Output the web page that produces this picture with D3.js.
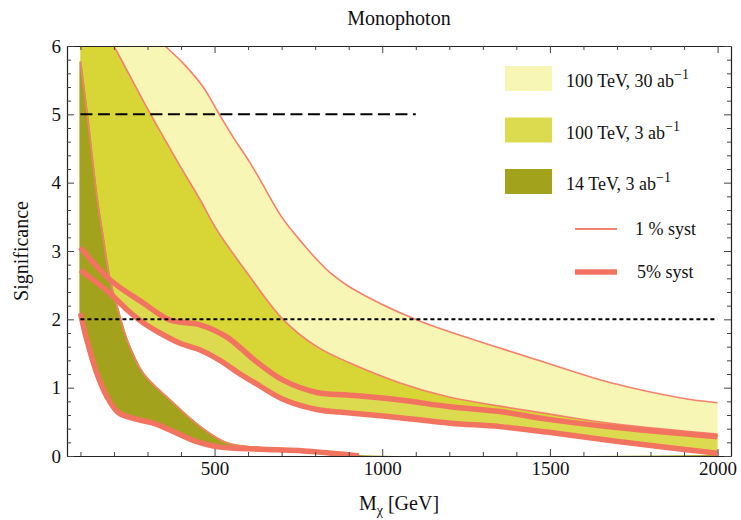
<!DOCTYPE html>
<html>
<head>
<meta charset="utf-8">
<script src="https://cdn.jsdelivr.net/npm/d3@7"></script>
<style>
  body { margin: 0; background: #fff; }
  text { font-family: "Liberation Serif", "DejaVu Serif", serif; fill: #111; }
</style>
</head>
<body>
<div id="chart"></div>
<script>
// values
// 100 TeV, 30 ab^-1 : 1% syst (upper) and 5% syst (lower)
var hi30X = [100, 250, 352, 406, 466, 507, 555, 606, 636, 700, 761, 806, 850, 904, 1104, 1351, 1491, 1691, 1891, 2000];
var hi30Y = [7.0, 6.45, 6.0, 5.75, 5.40, 5.06, 4.67, 4.29, 4.04, 3.50, 3.12, 2.87, 2.66, 2.47, 1.99, 1.58, 1.36, 1.06, 0.85, 0.78];
var lo30X = [100, 188, 287, 367, 457, 537, 580, 620, 704, 805, 904, 1053, 1202, 1351, 1491, 1691, 2000];
var lo30Y = [3.05, 2.58, 2.24, 1.99, 1.92, 1.74, 1.57, 1.40, 1.11, 0.93, 0.89, 0.82, 0.72, 0.65, 0.54, 0.42, 0.28];

// 100 TeV, 3 ab^-1
var hi3X = [100, 200, 307, 400, 457, 507, 606, 704, 805, 904, 1053, 1202, 1351, 1491, 1691, 2000];
var hi3Y = [6.9, 6.0, 5.02, 4.22, 3.75, 3.31, 2.62, 2.0, 1.60, 1.36, 1.07, 0.86, 0.73, 0.62, 0.47, 0.32];
var lo3X = [100, 188, 239, 287, 337, 397, 457, 516, 576, 620, 704, 805, 904, 1053, 1202, 1351, 1491, 1691, 2000];
var lo3Y = [2.72, 2.38, 2.14, 1.95, 1.80, 1.65, 1.55, 1.40, 1.20, 1.07, 0.83, 0.68, 0.63, 0.56, 0.48, 0.43, 0.35, 0.22, 0.04];

// 14 TeV, 3 ab^-1
var hi14X = [100, 120, 150, 164, 188, 212, 239, 287, 367, 457, 537, 636, 750, 850, 930, 2000];
var hi14Y = [5.77, 5.0, 3.75, 3.31, 2.58, 2.14, 1.70, 1.21, 0.82, 0.43, 0.19, 0.12, 0.09, 0.05, 0, 0];
var lo14X = [100, 119, 149, 179, 212, 257, 317, 367, 436, 516, 636, 750, 850, 930, 2000];
var lo14Y = [2.09, 1.70, 1.21, 0.87, 0.64, 0.55, 0.48, 0.38, 0.23, 0.13, 0.10, 0.08, 0.04, 0, 0];

// reference significance lines
var refY = [5, 2];
var refXStart = [100, 100];
var refXEnd = [1100, 2000];

var xMajorTicks = [500, 1000, 1500, 2000];
var yMajorTicks = [0, 1, 2, 3, 4, 5, 6];

var bandNames = ["100 TeV, 30 ab", "100 TeV, 3 ab", "14 TeV, 3 ab"];
var systNames = ["1 % syst", "5% syst"];

var svgWidth = 741;
var svgHeight = 520;
var margin = { top: 46, right: 10, bottom: 64, left: 67 };
var width = svgWidth - margin.left - margin.right;
var height = svgHeight - margin.top - margin.bottom;

var colLight = "#f7f6b5";
var colMed = "#dcdb4f";
var colOver = "#d8d536";
var colDark = "#a3a21c";
var colLine = "#f4806e";
var colThick = "#f2735f";

var svg = d3.select("#chart").append("svg")
  .attr("width", svgWidth)
  .attr("height", svgHeight);

var chartGroup = svg.append("g")
  .attr("transform", `translate(${margin.left}, ${margin.top})`);

var x = d3.scaleLinear().domain([60, 2040]).range([0, width]);
var y = d3.scaleLinear().domain([0, 6]).range([height, 0]);

var line = d3.line()
  .x(d => x(d[0]))
  .y(d => y(d[1]))
  .curve(d3.curveCatmullRom.alpha(0.5));

function pts(xs, ys) {
  return xs.map((v, i) => [v, ys[i]]);
}

// line up to (and including) the first zero
function untilZero(p) {
  var k = p.findIndex(d => d[1] <= 0);
  return k < 0 ? p : p.slice(0, k + 1);
}

function bandPath(xHi, yHi, xLo, yLo) {
  var a = line(pts(xHi, yHi));
  var b = line(pts(xLo, yLo).reverse());
  return a + "L" + b.slice(1) + "Z";
}

var defs = svg.append("defs");
defs.append("clipPath").attr("id", "plotClip")
  .append("rect").attr("width", width).attr("height", height);
defs.append("clipPath").attr("id", "lightClip")
  .append("path").attr("d", bandPath(hi30X, hi30Y, lo30X, lo30Y));

var plot = chartGroup.append("g").attr("clip-path", "url(#plotClip)");

// bands
plot.append("path")
  .attr("d", bandPath(hi30X, hi30Y, lo30X, lo30Y))
  .attr("fill", colLight);
plot.append("path")
  .attr("d", bandPath(hi3X, hi3Y, lo3X, lo3Y))
  .attr("fill", colMed);
plot.append("path")
  .attr("d", bandPath(hi3X, hi3Y, lo3X, lo3Y))
  .attr("fill", colOver)
  .attr("clip-path", "url(#lightClip)");
plot.append("path")
  .attr("d", bandPath(hi14X, hi14Y, lo14X, lo14Y))
  .attr("fill", colDark)
  .attr("stroke", colDark)
  .attr("stroke-width", 2);

// 1% syst (thin)
[pts(hi30X, hi30Y), pts(hi3X, hi3Y), untilZero(pts(hi14X, hi14Y))].forEach(function(p) {
  plot.append("path")
    .attr("d", line(p))
    .attr("fill", "none")
    .attr("stroke", colLine)
    .attr("stroke-width", 1.6);
});

// 5% syst (thick)
[pts(lo30X, lo30Y), pts(lo3X, lo3Y), untilZero(pts(lo14X, lo14Y))].forEach(function(p) {
  plot.append("path")
    .attr("d", line(p))
    .attr("fill", "none")
    .attr("stroke", colThick)
    .attr("stroke-width", 5.5)
    .attr("stroke-linecap", "butt")
    .attr("stroke-linejoin", "round");
});

// reference lines
refY.forEach(function(v, i) {
  plot.append("line")
    .attr("x1", x(refXStart[i]))
    .attr("x2", x(refXEnd[i]))
    .attr("y1", y(v))
    .attr("y2", y(v))
    .attr("stroke", "#000")
    .attr("stroke-width", 2)
    .attr("stroke-dasharray", i === 0 ? "12,5.5" : "4,3");
});

// frame with inward ticks
var xMinor = d3.range(100, 2001, 100).filter(v => xMajorTicks.indexOf(v) < 0);
var yMinor = d3.range(0, 6.01, 0.2).filter(v => Math.abs(v - Math.round(v)) > 0.01);

function frameAxis(axis, transform, labels) {
  var g = chartGroup.append("g").attr("transform", transform).call(axis);
  g.selectAll(".tick line").attr("stroke", "#444");
  g.select(".domain").attr("stroke", "#222").attr("stroke-width", 1.2);
  g.selectAll("text").attr("font-size", 19).attr("fill", "#111")
    .attr("font-family", "Liberation Serif");
  if (!labels) g.selectAll("text").remove();
  return g;
}

frameAxis(d3.axisBottom(x).tickValues(xMajorTicks).tickSizeInner(-7).tickSizeOuter(0).tickPadding(6).tickFormat(d3.format("d")),
  `translate(0, ${height})`, true);
frameAxis(d3.axisBottom(x).tickValues(xMinor).tickSizeInner(-4).tickSizeOuter(0),
  `translate(0, ${height})`, false).select(".domain").remove();
frameAxis(d3.axisTop(x).tickValues(xMajorTicks).tickSizeInner(-7).tickSizeOuter(0),
  "translate(0, 0)", false);
frameAxis(d3.axisTop(x).tickValues(xMinor).tickSizeInner(-4).tickSizeOuter(0),
  "translate(0, 0)", false).select(".domain").remove();
frameAxis(d3.axisLeft(y).tickValues(yMajorTicks).tickSizeInner(-7).tickSizeOuter(0).tickPadding(6).tickFormat(d3.format("d")),
  "translate(0, 0)", true);
frameAxis(d3.axisLeft(y).tickValues(yMinor).tickSizeInner(-4).tickSizeOuter(0),
  "translate(0, 0)", false).select(".domain").remove();
frameAxis(d3.axisRight(y).tickValues(yMajorTicks).tickSizeInner(-7).tickSizeOuter(0),
  `translate(${width}, 0)`, false);
frameAxis(d3.axisRight(y).tickValues(yMinor).tickSizeInner(-4).tickSizeOuter(0),
  `translate(${width}, 0)`, false).select(".domain").remove();

// title and axis labels
svg.append("text")
  .attr("x", margin.left + width / 2)
  .attr("y", 25)
  .attr("text-anchor", "middle")
  .attr("font-size", 20)
  .text("Monophoton");

var xLabel = svg.append("text")
  .attr("x", margin.left + width / 2)
  .attr("y", 510)
  .attr("text-anchor", "middle")
  .attr("font-size", 20);
xLabel.append("tspan").text("M");
xLabel.append("tspan").attr("dy", 5).attr("font-size", 14).text("\u03c7");
xLabel.append("tspan").attr("dy", -5).text(" [GeV]");

svg.append("text")
  .attr("transform", `translate(28, ${margin.top + height / 2}) rotate(-90)`)
  .attr("text-anchor", "middle")
  .attr("font-size", 20)
  .text("Significance");

// legend
var legend = svg.append("g");
var boxCols = [colLight, colMed, colDark];
bandNames.forEach(function(name, i) {
  var top = 66 + i * 51.5;
  legend.append("rect")
    .attr("x", 505).attr("y", top)
    .attr("width", 47).attr("height", 25)
    .attr("fill", boxCols[i]);
  var t = legend.append("text")
    .attr("x", 566).attr("y", top + 21)
    .attr("font-size", 18);
  t.append("tspan").text(name);
  t.append("tspan").attr("dy", -8).attr("font-size", 14).text("\u22121");
});
systNames.forEach(function(name, i) {
  var ly = 229 + i * 43;
  legend.append("line")
    .attr("x1", 575).attr("x2", 617)
    .attr("y1", ly).attr("y2", ly)
    .attr("stroke", i === 0 ? colLine : colThick)
    .attr("stroke-width", i === 0 ? 2 : 5.5);
  legend.append("text")
    .attr("x", 635 + i * 2).attr("y", ly + 6)
    .attr("font-size", 18)
    .text(name);
});
</script>
</body>
</html>
